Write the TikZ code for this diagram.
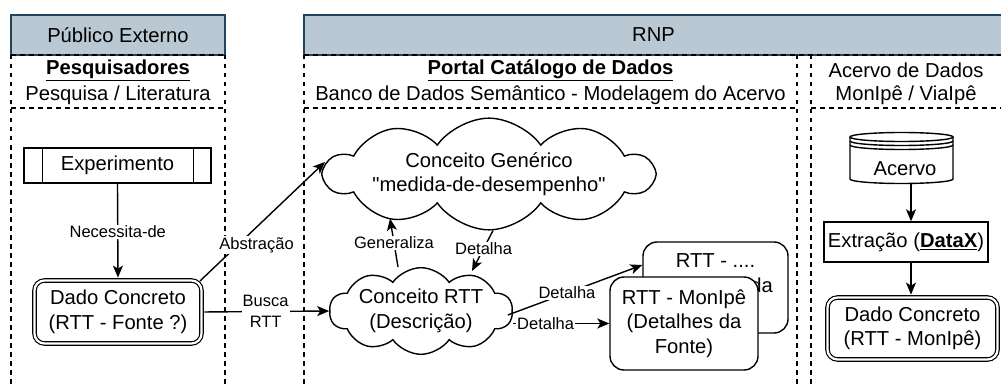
\documentclass[tikz,border=0pt]{standalone}
\usepackage{fontspec}
\setmainfont{Liberation Sans}[Ligatures=TeXOff]
\usetikzlibrary{shapes.symbols,shapes.geometric,arrows.meta,calc}
\definecolor{hdrfill}{HTML}{BAC8D3}
\definecolor{hdrline}{HTML}{23445D}
\begin{document}
\begin{tikzpicture}[x=1pt,y=1pt,
 lw/.style={line width=1.4pt},
 main/.style={font=\fontsize{20.2}{24.5}\selectfont, align=center},
 lbl/.style={font=\fontsize{16.5}{21}\selectfont, align=center, fill=white, inner sep=1pt},
 lane/.style={draw, dash pattern=on 4.5pt off 4.5pt, line width=1.4pt},
 hdr/.style={draw=hdrline, fill=hdrfill, line width=1.4pt, main, inner sep=0pt},
 box/.style={draw, line width=1.4pt, main, fill=white, inner sep=0pt},
 dbox/.style={draw, double, double distance=2.2pt, line width=1.2pt, rounded corners=10pt, main, inner sep=0pt},
 cloudbox/.style={draw, cloud, cloud puffs=10, cloud puff arc=110, cloud ignores aspect, line width=1.4pt, main, inner sep=0pt, fill=white},
 arr/.style={line width=1.4pt, -{Stealth[length=12pt, width=10pt, inset=3pt]}},
 plain/.style={line width=1.4pt},
 ttl/.style={main, inner sep=0pt},
]
\useasboundingbox (0,0) rectangle (1001,-385);

% headers
\node[hdr, minimum width=214, minimum height=40] (h1) at (118,-35) {Público Externo};
\node[hdr, minimum width=699, minimum height=40] (h2) at (653.5,-35) {RNP};

% lanes
\draw[lane] (11,-55) -- (11,-395);
\draw[lane] (225,-55) -- (225,-395);
\draw[lane] (11,-55) -- (225,-55);
\draw[lane] (11,-108) -- (225,-108);
\draw[lane] (304,-55) -- (304,-395);
\draw[lane] (797,-55) -- (797,-395);
\draw[lane] (304,-55) -- (1003,-55);
\draw[lane] (304,-108) -- (797,-108);
\draw[lane] (811,-55) -- (811,-395);
\draw[lane] (811,-108) -- (1003,-108);

% lane titles
\node[ttl] (t1a) at (118,-70) {\textbf{\underline{Pesquisadores}}};
\node[ttl] (t1b) at (118,-95) {Pesquisa / Literatura};
\node[ttl] (t2a) at (550.5,-70) {\textbf{\underline{Portal Catálogo de Dados}}};
\node[ttl] (t2b) at (550.5,-95) {Banco de Dados Semântico - Modelagem do Acervo};
\node[ttl] (t3a) at (906,-70) {Acervo de Dados};
\node[ttl] (t3b) at (906,-95) {MonIpê / ViaIpê};

% lane 1
\node[box, minimum width=187, minimum height=35] (exp) at (117.5,-165.5) {Experimento};
\draw[plain] ([xshift=19pt]exp.north west) -- ([xshift=19pt]exp.south west);
\draw[plain] ([xshift=-18pt]exp.north east) -- ([xshift=-18pt]exp.south east);
\node[dbox, minimum width=167, minimum height=63] (dc1) at (118,-312) {Dado Concreto\\(RTT - Fonte ?)};

% lane 2
\node[cloudbox, minimum width=328, minimum height=82] (gen) at (489,-174) {Conceito Genérico\\"medida-de-desempenho"};
\node[cloudbox, minimum width=183, minimum height=82] (rtt) at (421,-311) {Conceito RTT\\(Descrição)};
\node[box, rounded corners=14pt, minimum width=145, minimum height=91] (back) at (715.5,-287.5) {RTT - ....\\(Detalhes da\\Fonte)};
\node[box, rounded corners=14pt, minimum width=148, minimum height=93] (front) at (684,-323.5) {RTT - MonIpê\\(Detalhes da\\Fonte)};

% lane 3
\draw[lw, fill=white] (850,-137) -- (850,-179) arc[start angle=180,end angle=360,x radius=51.5,y radius=4.5] -- (953,-137);
\draw[lw, fill=white] (901.5,-137) ellipse[x radius=51.5, y radius=4.5];
\draw[lw] (850,-141) arc[start angle=180,end angle=360,x radius=51.5,y radius=4.5];
\draw[lw] (850,-145) arc[start angle=180,end angle=360,x radius=51.5,y radius=4.5];
\node[ttl] (acervo) at (905,-169) {Acervo};
\coordinate (acervobot) at (911,-183.5);
\node[box, minimum width=164, minimum height=40] (ext) at (906,-242) {Extração (\textbf{\underline{DataX}})};
\node[dbox, minimum width=170, minimum height=62] (dc2) at (912.5,-328.5) {Dado Concreto\\(RTT - MonIpê)};

% connectors
\draw[arr, shorten >=2.3pt] (exp.south) -- node[lbl]{Necessita-de} (dc1.north);
\draw[arr] ([shift={(-2pt,-1pt)}]dc1.north east) -- node[lbl, pos=0.3, xshift=19pt]{Abstração} ([shift={(4pt,12pt)}]gen.west);
\draw[arr, shorten <=2.3pt] (dc1.east) -- node[lbl]{Busca\\RTT} (rtt.west);
\draw[arr] ([xshift=-23pt]rtt.north) -- node[lbl]{Generaliza} ([shift={(-99pt,12pt)}]gen.south);
\draw[arr] ([xshift=4pt]gen.south) -- node[lbl, pos=0.45]{Detalha} ([shift={(51pt,-4pt)}]rtt.north);
\draw[arr] ([shift={(-5pt,-4pt)}]rtt.east) -- node[lbl, pos=0.44]{Detalha} ([yshift=22.5pt]back.west);
\draw[arr] (rtt.east |- front.west) -- node[lbl, pos=0.34]{Detalha} (front.west);
\draw[arr] (acervobot) -- (ext.north -| acervobot);
\draw[arr, shorten >=2.3pt] (ext.south -| acervobot) -- (dc2.north -| acervobot);
\end{tikzpicture}
\end{document}
